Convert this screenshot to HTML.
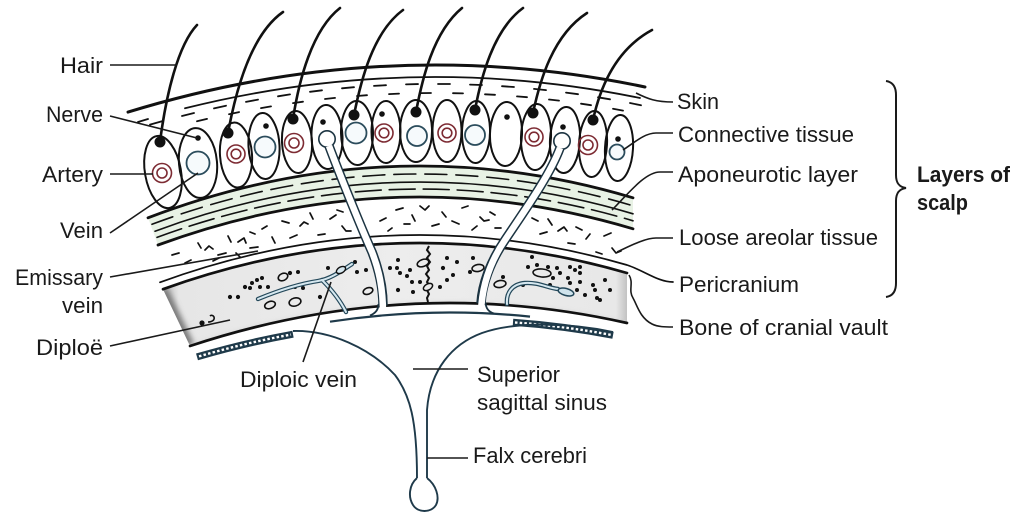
<!DOCTYPE html>
<html><head><meta charset="utf-8">
<style>
html,body{margin:0;padding:0;background:#fff;}
svg{display:block;}
text{font-family:"Liberation Sans",Arial,sans-serif;font-size:22px;fill:#1a1a1a;}
.b{font-weight:bold;}
</style></head><body>
<svg width="1024" height="526" viewBox="0 0 1024 526" xmlns="http://www.w3.org/2000/svg">
<defs>
<linearGradient id="bg" gradientUnits="userSpaceOnUse" x1="160" y1="0" x2="630" y2="0">
<stop offset="0" stop-color="#b4b4b4"/>
<stop offset="0.04" stop-color="#e6e6e6"/>
<stop offset="0.5" stop-color="#ededed"/>
<stop offset="0.97" stop-color="#e8e8e8"/>
<stop offset="1" stop-color="#b8b8b8"/>
</linearGradient>
<clipPath id="bc"><path d="M163,289.2 Q395,205.8 627,273 L627,323 Q408.5,273.7 190,346 Z"/></clipPath>
<filter id="bl" x="-50%" y="-50%" width="200%" height="200%"><feGaussianBlur stdDeviation="3"/></filter>
</defs>

<!-- green aponeurotic band -->
<path d="M148,217.8 Q390.5,125.4 633,197.8 L633,228.8 Q395.5,157.9 158,245 Z" fill="#e8f2e5"/>

<!-- bone fill -->
<path d="M163,289.2 Q395,205.8 627,273 L627,323 Q408.5,273.7 190,346 Z" fill="url(#bg)"/>
<g clip-path="url(#bc)">
<path d="M163,289 L190,346" stroke="#777" stroke-width="9" fill="none" filter="url(#bl)"/>
<path d="M628,268 L628,330" stroke="#888" stroke-width="8" fill="none" filter="url(#bl)"/>
<path d="M190,350 Q408.5,277 627,327" stroke="#c4c4c4" stroke-width="6" fill="none" filter="url(#bl)"/>
</g>

<g fill="none" stroke="#111" stroke-linecap="round">
<!-- skin -->
<path d="M128,112.1 Q386.5,32.8 645,87" stroke-width="3"/>
<path d="M185,108.3 Q412.5,51.4 640,98" stroke-width="1.8"/>
<!-- aponeurotic -->
<path d="M148,217.8 Q390.5,125.4 633,197.8" stroke-width="2.8"/>
<path d="M152,224.3 Q392.5,134 633,205.8" stroke-width="1.6" stroke-dasharray="22 9"/>
<path d="M155,231.2 Q394,142.5 633,213.8" stroke-width="1.6"/>
<path d="M157,237.4 Q395,149.8 633,220.8" stroke-width="1.6" stroke-dasharray="26 8"/>
<path d="M158,245 Q395.5,157.9 633,228.8" stroke-width="2.8"/>
<!-- pericranium with leader -->
<path d="M160,282.3 Q393.5,197.3 627,265 C645,271 658,282 673,282" stroke-width="1.7"/>
<!-- bone -->
<path d="M163,289.2 Q395,205.8 627,273" stroke-width="2.7"/>
<path d="M190,346 Q408.5,273.7 627,323" stroke-width="2.7"/>
</g>

<!-- skin dashes -->
<g stroke="#111" stroke-width="1.8" fill="none" stroke-linecap="round">
<path d="M138,122l10,-3 M150,124.6l12,-3.4 M182,116l12,-3 M214,108.4l12,-2.7 M246,101.9l12,-2.3 M278,96.3l12,-1.9 M310,91.8l12,-1.5 M342,88.3l12,-1.1 M374,85.9l12,-0.7 M406,84.4l12,-0.35 M438,84l12,0 M470,84.6l12,0.4 M502,86.2l12,0.8 M534,88.9l12,1.2 M566,92.6l12,1.6 M598,97.3l12,2 M630,103l11,2.3"/>
<path d="M197,121.3l10,-2.4 M229,114.2l10,-2.1 M261,108.1l10,-1.7 M293,103.1l10,-1.4 M325,99l10,-1.1 M357,96l10,-0.8 M389,94.1l10,-0.5 M421,93.1l10,-0.1 M453,93.2l10,0.2 M485,94.3l10,0.5 M517,96.4l10,0.8 M549,99.5l10,1.1 M581,103.7l10,1.5 M613,108.8l10,1.8"/>
</g>

<!-- areolar marks -->
<path fill="none" stroke="#111" stroke-width="1.7" stroke-linecap="round" stroke-linejoin="round" d="M172,255l7,-2 M185,263l6,-3 M198,243l3,5 M205,250l4,-4l4,3 M218,255l8,-2 M228,236l3,6 M238,242l6,-4l2,5 M250,248l8,-1 M262,229l5,-3 M272,237l3,6 M282,221l7,2 M290,238l7,-3 M300,226l4,-4l4,2 M310,213l3,6 M318,235l7,-1 M330,219l6,-4 M342,226l4,5l5,0 M337,210l6,2 M396,210l7,-2 M404,224l6,0 M412,215l3,6 M420,206l5,4l4,-4 M432,226l7,-2 M442,212l4,5 M452,221l7,3 M462,208l6,-2 M472,230l5,-4 M480,217l4,4l5,-1 M532,218l6,3 M540,234l7,-2 M548,219l4,6 M558,231l6,-4l3,4 M568,243l7,1 M576,227l6,3 M586,239l4,-5 M596,252l6,2 M604,236l7,-3 M612,248l4,5l5,-2 M250,232l5,2 M380,221l6,-3 M388,231l4,-3 M495,228l6,0 M213,261l6,-3 M236,253l4,4 M490,212l5,3"/>

<!-- bone details -->
<g fill="#111">
<circle cx="230" cy="297" r="2.1"/><circle cx="238" cy="297" r="2.1"/><circle cx="245" cy="287" r="2.1"/><circle cx="250" cy="288" r="2"/><circle cx="252" cy="283" r="2"/><circle cx="257" cy="280" r="2"/><circle cx="260" cy="287" r="2"/><circle cx="262" cy="278" r="2"/><circle cx="268" cy="287" r="2"/><circle cx="290" cy="273" r="2.1"/><circle cx="298" cy="272" r="2"/><circle cx="295" cy="287" r="2"/><circle cx="303" cy="288" r="2"/><circle cx="320" cy="297" r="2.1"/><circle cx="328" cy="268" r="2"/><circle cx="355" cy="262" r="2"/><circle cx="357" cy="272" r="2"/><circle cx="366" cy="270" r="2"/>
<circle cx="390" cy="268" r="2"/><circle cx="398" cy="260" r="2"/><circle cx="397" cy="268" r="2"/><circle cx="400" cy="273" r="2"/><circle cx="410" cy="270" r="2"/><circle cx="412" cy="282" r="2"/><circle cx="398" cy="290" r="2.1"/><circle cx="420" cy="282" r="2"/><circle cx="447" cy="258" r="2"/><circle cx="443" cy="268" r="2.1"/><circle cx="453" cy="275" r="2"/><circle cx="447" cy="280" r="2"/><circle cx="473" cy="258" r="2"/><circle cx="470" cy="272" r="2"/><circle cx="407" cy="276" r="2"/><circle cx="413" cy="292" r="2"/><circle cx="457" cy="262" r="2"/><circle cx="440" cy="287" r="2"/>
<circle cx="532" cy="257" r="2"/><circle cx="537" cy="265" r="2"/><circle cx="528" cy="267" r="2"/><circle cx="548" cy="267" r="2"/><circle cx="557" cy="268" r="2"/><circle cx="570" cy="267" r="2"/><circle cx="575" cy="270" r="2"/><circle cx="580" cy="267" r="2"/><circle cx="568" cy="278" r="2"/><circle cx="570" cy="283" r="2"/><circle cx="580" cy="282" r="2"/><circle cx="577" cy="290" r="2"/><circle cx="585" cy="295" r="2"/><circle cx="593" cy="285" r="2"/><circle cx="595" cy="290" r="2"/><circle cx="597" cy="298" r="2"/><circle cx="600" cy="300" r="2"/><circle cx="553" cy="278" r="2"/><circle cx="550" cy="285" r="2"/><circle cx="523" cy="285" r="2"/><circle cx="580" cy="273" r="2"/><circle cx="560" cy="273" r="2"/><circle cx="503" cy="277" r="2"/><circle cx="610" cy="290" r="2"/><circle cx="605" cy="280" r="2"/>
<circle cx="202" cy="323" r="2.6"/>
</g>
<g fill="none" stroke="#111" stroke-width="1.6">
<ellipse cx="270" cy="305" rx="5.5" ry="3.5" transform="rotate(-20 270 305)"/>
<ellipse cx="295" cy="302" rx="6" ry="4" transform="rotate(-15 295 302)"/>
<ellipse cx="283" cy="277" rx="5" ry="3.5" transform="rotate(-25 283 277)"/>
<ellipse cx="368" cy="291" rx="5" ry="3.2" transform="rotate(-20 368 291)"/>
<ellipse cx="423" cy="263" rx="6" ry="3.5" transform="rotate(-20 423 263)"/>
<ellipse cx="478" cy="268" rx="6" ry="3.5" transform="rotate(-10 478 268)"/>
<ellipse cx="542" cy="273" rx="9" ry="4" transform="rotate(5 542 273)"/>
<ellipse cx="500" cy="284" rx="6" ry="3.5" transform="rotate(-10 500 284)"/>
<path d="M208,322 c4,0 7,-2 6,-5 c-1,-2 -3,-2 -4,-1"/>
<path d="M429,246 L427,250 L430,254 L427,258 L430,262 L427,266 L429,270 L426,274 L429,278 L427,282 L430,286 L427,290 L429,294 L427,298 L428,302" stroke-width="2"/>
</g>
<ellipse cx="428" cy="287" rx="5" ry="3" transform="rotate(-30 428 287)" fill="#ececec" stroke="#111" stroke-width="1.5"/>

<!-- diploic veins -->
<g fill="none" stroke-linecap="round">
<g stroke="#24485a" stroke-width="4.4">
<path d="M258,299 C275,292 298,284 318,281 C330,279 340,272 352,264"/>
<path d="M322,280 C332,290 340,300 346,312"/>
<path d="M507,304 C506,293 512,284 525,283 C538,282 548,288 558,289"/>
</g>
<g stroke="#d6e8f0" stroke-width="2">
<path d="M258,299 C275,292 298,284 318,281 C330,279 340,272 352,264"/>
<path d="M322,280 C332,290 340,300 346,312"/>
<path d="M507,304 C506,293 512,284 525,283 C538,282 548,288 558,289"/>
</g>
</g>
<ellipse cx="341" cy="270" rx="5" ry="3" transform="rotate(-30 341 270)" fill="#d6e8f0" stroke="#111" stroke-width="1.4"/>
<ellipse cx="566" cy="292" rx="8" ry="3.5" transform="rotate(15 566 292)" fill="#cfe3ec" stroke="#24485a" stroke-width="1.5"/>

<!-- follicle ovals -->
<g fill="#fff" stroke="none">
<ellipse cx="163" cy="172" rx="18" ry="36.5" transform="rotate(-10 163 172)"/>
<ellipse cx="198" cy="163" rx="19" ry="35" transform="rotate(-5 198 163)"/>
<ellipse cx="236" cy="155" rx="16" ry="32.5" transform="rotate(-4 236 155)"/>
<ellipse cx="264" cy="146" rx="15.5" ry="33" transform="rotate(-3 264 146)"/>
<ellipse cx="297" cy="142" rx="15" ry="31" transform="rotate(-3 297 142)"/>
<ellipse cx="327" cy="137" rx="15.5" ry="32" transform="rotate(-2 327 137)"/>
<ellipse cx="357" cy="133" rx="16" ry="32" transform="rotate(-1 357 133)"/>
<ellipse cx="386" cy="132" rx="14.5" ry="31"/>
<ellipse cx="416" cy="131" rx="16" ry="31"/>
<ellipse cx="447" cy="131" rx="14.5" ry="31"/>
<ellipse cx="476" cy="132" rx="14" ry="31" transform="rotate(1 476 132)"/>
<ellipse cx="506" cy="134" rx="16" ry="32" transform="rotate(2 506 134)"/>
<ellipse cx="536" cy="137" rx="15" ry="33" transform="rotate(2 536 137)"/>
<ellipse cx="565" cy="140" rx="15" ry="33" transform="rotate(3 565 140)"/>
<ellipse cx="593" cy="144" rx="14" ry="33" transform="rotate(3 593 144)"/>
<ellipse cx="619" cy="148" rx="14" ry="33" transform="rotate(3 619 148)"/>
</g>
<g fill="none" stroke="#111" stroke-width="2">
<ellipse cx="163" cy="172" rx="18" ry="36.5" transform="rotate(-10 163 172)"/>
<ellipse cx="198" cy="163" rx="19" ry="35" transform="rotate(-5 198 163)"/>
<ellipse cx="236" cy="155" rx="16" ry="32.5" transform="rotate(-4 236 155)"/>
<ellipse cx="264" cy="146" rx="15.5" ry="33" transform="rotate(-3 264 146)"/>
<ellipse cx="297" cy="142" rx="15" ry="31" transform="rotate(-3 297 142)"/>
<ellipse cx="327" cy="137" rx="15.5" ry="32" transform="rotate(-2 327 137)"/>
<ellipse cx="357" cy="133" rx="16" ry="32" transform="rotate(-1 357 133)"/>
<ellipse cx="386" cy="132" rx="14.5" ry="31"/>
<ellipse cx="416" cy="131" rx="16" ry="31"/>
<ellipse cx="447" cy="131" rx="14.5" ry="31"/>
<ellipse cx="476" cy="132" rx="14" ry="31" transform="rotate(1 476 132)"/>
<ellipse cx="506" cy="134" rx="16" ry="32" transform="rotate(2 506 134)"/>
<ellipse cx="536" cy="137" rx="15" ry="33" transform="rotate(2 536 137)"/>
<ellipse cx="565" cy="140" rx="15" ry="33" transform="rotate(3 565 140)"/>
<ellipse cx="593" cy="144" rx="14" ry="33" transform="rotate(3 593 144)"/>
<ellipse cx="619" cy="148" rx="14" ry="33" transform="rotate(3 619 148)"/>
</g>

<!-- arteries -->
<g fill="none" stroke="#7d2b33" stroke-width="1.6">
<circle cx="162" cy="173" r="9.5"/><circle cx="162" cy="173" r="5"/>
<circle cx="236" cy="154" r="9"/><circle cx="236" cy="154" r="4.8"/>
<circle cx="294" cy="143" r="9.5"/><circle cx="294" cy="143" r="5"/>
<circle cx="384" cy="133" r="9"/><circle cx="384" cy="133" r="4.8"/>
<circle cx="447" cy="133" r="9"/><circle cx="447" cy="133" r="4.8"/>
<circle cx="534" cy="137" r="9"/><circle cx="534" cy="137" r="4.8"/>
<circle cx="588" cy="145" r="9.5"/><circle cx="588" cy="145" r="5"/>
</g>
<!-- veins -->
<g fill="#f6fafc" stroke="#2b4c5c" stroke-width="1.8">
<circle cx="198" cy="163" r="11.5"/>
<circle cx="265" cy="147" r="10.5"/>
<circle cx="356" cy="133" r="10.5"/>
<circle cx="417" cy="136" r="10"/>
<circle cx="475" cy="135" r="10"/>
<circle cx="617" cy="152" r="7.5"/>
</g>
<!-- hair bulbs and nerves -->
<g fill="#111">
<circle cx="160" cy="142" r="5.5"/><circle cx="228" cy="133" r="5.5"/><circle cx="293" cy="119" r="5.5"/><circle cx="354" cy="115" r="5.5"/><circle cx="416" cy="112" r="5.5"/><circle cx="475" cy="110" r="5.5"/><circle cx="533" cy="113" r="5.5"/><circle cx="593" cy="120" r="5.5"/>
<circle cx="198" cy="138" r="2.8"/><circle cx="266" cy="126" r="2.8"/><circle cx="323" cy="122" r="2.8"/><circle cx="382" cy="114" r="2.8"/><circle cx="507" cy="117" r="2.8"/><circle cx="563" cy="127" r="2.8"/><circle cx="618" cy="139" r="2.8"/>
</g>

<!-- dura line under bone -->
<path d="M330,321.7 Q430,306.4 530,316.6" fill="none" stroke="#1f3a4a" stroke-width="2.2"/>

<!-- emissary veins -->
<g fill="none" stroke="#1c3442" stroke-width="9.5" stroke-linecap="butt">
<path d="M329,146 C338,170 360,225 372,252 C379,270 383,288 383,305.5"/>
<path d="M560,148 C550,175 525,210 505,240 C490,262 482,285 481,303.5"/>
</g>
<circle cx="327" cy="139" r="9" fill="#1c3442"/>
<circle cx="562" cy="141" r="9" fill="#1c3442"/>
<g fill="none" stroke="#1c3442" stroke-width="1.8">
<path d="M378.4,304 Q378.6,312 370,315.5"/>
<path d="M485.6,302.5 Q485.8,311 494,313.5"/>
</g>
<g fill="none" stroke="#fff" stroke-width="6.5" stroke-linecap="butt">
<path d="M329,146 C338,170 360,225 372,252 C379,270 383,288 383,313.5"/>
<path d="M560,148 C550,175 525,210 505,240 C490,262 482,285 481,311.8"/>
</g>
<circle cx="327" cy="139" r="7.4" fill="#fff"/>
<circle cx="562" cy="141" r="7.4" fill="#fff"/>

<!-- hairs -->
<g fill="none" stroke="#111" stroke-width="2.6" stroke-linecap="round">
<path d="M160,142 C166,95 178,45 197,25"/>
<path d="M228,133 C235,95 250,35 283,12"/>
<path d="M293,119 C299,80 312,30 340,8"/>
<path d="M354,115 C361,80 373,32 403,10"/>
<path d="M416,112 C422,80 433,32 462,8"/>
<path d="M475,110 C481,78 493,30 523,8"/>
<path d="M533,113 C540,80 553,35 587,13"/>
<path d="M593,120 C600,88 615,50 652,30"/>
</g>

<!-- dura bands and falx -->
<g fill="none">
<path d="M197,356.9 Q245,342.9 293,334.2" stroke="#1f3a4a" stroke-width="7"/>
<path d="M199,356.4 Q245,342.9 291,334.6" stroke="#fff" stroke-width="2.4" stroke-dasharray="2.5 2.2"/>
<path d="M513,322.3 Q563,325.9 613,335.3" stroke="#1f3a4a" stroke-width="7"/>
<path d="M515,322.5 Q563,325.9 611,334.9" stroke="#fff" stroke-width="2.4" stroke-dasharray="2.5 2.2"/>
<g stroke="#1f3a4a" stroke-width="1.9">
<path d="M293,331 C330,330 370,348 395,375 C410,395 417,420 417,478"/>
<path d="M613,332 C570,323 515,321 482,333 C452,344 430,370 427,410 L427,478"/>
<path d="M417,478 C409,485 408,497 413,505 C418,513 431,513 436,505 C440,497 436,485 427,478"/>
</g>
</g>

<!-- leaders -->
<g fill="none" stroke="#1a1a1a" stroke-width="1.6">
<path d="M110,65 L177,65"/>
<path d="M110,116 L197,138"/>
<path d="M110,174 L153,174"/>
<path d="M110,233 L198,173"/>
<path d="M110,277 L258,251"/>
<path d="M110,346 L230,320"/>
<path d="M303,362 L331,282"/>
<path d="M413,369 L468,369"/>
<path d="M427,458 L468,458"/>
<path d="M636,93 C648,99 656,102 673,102"/>
<path d="M623,150 C635,142 645,133 656,133 L673,133"/>
<path d="M612,210 C628,194 645,172 660,172 L673,172"/>
<path d="M617,252 C630,246 645,238 656,238 L673,238"/>
<path d="M629,275 C634,283 628,290 633,298 C637,305 640,318 652,324 C658,327 665,327 673,327"/>
<path d="M886,81 C893,82 896,87 896,95 L896,175 C896,183 899,187 906,188 C899,189 896,193 896,201 L896,283 C896,291 893,296 886,297" stroke-width="2"/>
</g>

<!-- labels -->
<text x="60" y="73" textLength="43" lengthAdjust="spacingAndGlyphs">Hair</text>
<text x="46" y="122" textLength="57" lengthAdjust="spacingAndGlyphs">Nerve</text>
<text x="42" y="182" textLength="61" lengthAdjust="spacingAndGlyphs">Artery</text>
<text x="60" y="238" textLength="43" lengthAdjust="spacingAndGlyphs">Vein</text>
<text x="15" y="285" textLength="88" lengthAdjust="spacingAndGlyphs">Emissary</text>
<text x="62" y="313" textLength="41" lengthAdjust="spacingAndGlyphs">vein</text>
<text x="36" y="355" textLength="67" lengthAdjust="spacingAndGlyphs">Diploë</text>

<text x="677" y="109" textLength="42" lengthAdjust="spacingAndGlyphs">Skin</text>
<text x="678" y="142" textLength="176" lengthAdjust="spacingAndGlyphs">Connective tissue</text>
<text x="678" y="182" textLength="180" lengthAdjust="spacingAndGlyphs">Aponeurotic layer</text>
<text x="679" y="245" textLength="199" lengthAdjust="spacingAndGlyphs">Loose areolar tissue</text>
<text x="679" y="292" textLength="120" lengthAdjust="spacingAndGlyphs">Pericranium</text>
<text x="679" y="335" textLength="209" lengthAdjust="spacingAndGlyphs">Bone of cranial vault</text>
<text class="b" x="917" y="182" textLength="93" lengthAdjust="spacingAndGlyphs">Layers of</text>
<text class="b" x="917" y="210" textLength="51" lengthAdjust="spacingAndGlyphs">scalp</text>

<text x="240" y="387" textLength="117" lengthAdjust="spacingAndGlyphs">Diploic vein</text>
<text x="477" y="382" textLength="83" lengthAdjust="spacingAndGlyphs">Superior</text>
<text x="477" y="410" textLength="130" lengthAdjust="spacingAndGlyphs">sagittal sinus</text>
<text x="473" y="463" textLength="114" lengthAdjust="spacingAndGlyphs">Falx cerebri</text>
</svg>
</body></html>
